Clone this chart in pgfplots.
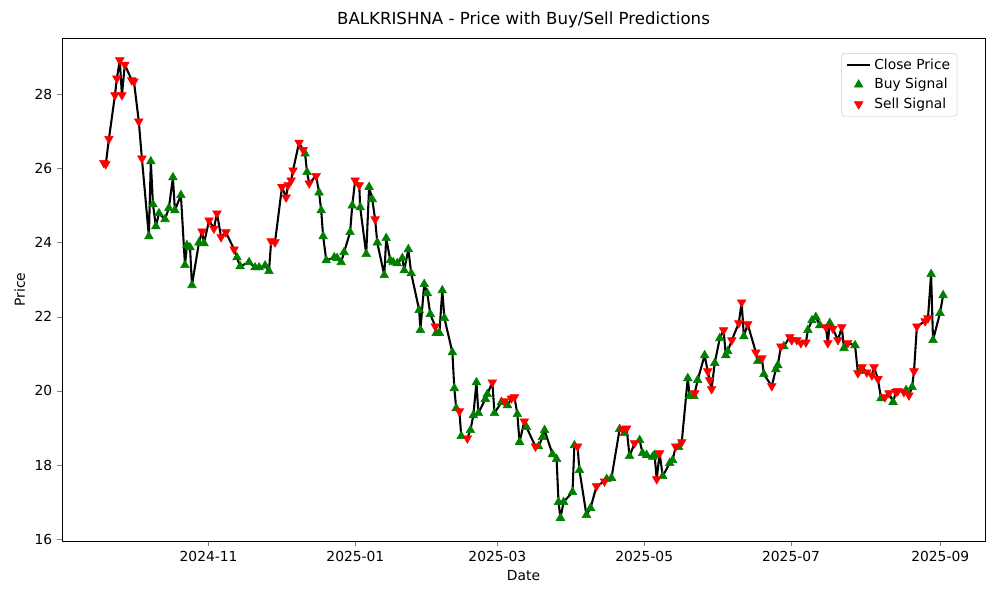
\documentclass[border=0pt]{standalone}
\usepackage{pgfplots}
\usepackage{pgfplotstable}
\pgfplotsset{compat=1.18}
\usepackage{fontspec}
\setmainfont{DejaVu Sans}
\pgfplotstableread{
x y s
17.5 26.15 0
18.3 26.12 0
19.6 26.8 0
22.1 27.98 0
22.9 28.43 0
24.1 28.92 0
25.0 27.98 0
26.2 28.8 0
29.1 28.38 0
30.0 28.35 0
32.0 27.27 0
33.3 26.27 0
36.2 24.17 1
37.0 26.19 1
37.9 25.03 1
39.1 24.44 1
40.4 24.79 1
42.9 24.63 1
44.5 24.93 1
46.2 25.76 1
47.0 24.87 1
49.5 25.28 1
51.2 23.39 1
52.0 23.93 1
53.3 23.87 1
54.1 22.85 1
57.0 24.0 1
58.3 24.3 0
59.1 23.98 1
61.2 24.6 0
63.2 24.38 0
64.5 24.79 0
66.2 24.15 0
68.2 24.28 0
71.6 23.82 0
72.8 23.6 1
74.1 23.36 1
77.8 23.47 1
80.3 23.33 1
82.0 23.33 1
84.5 23.38 1
86.1 23.23 1
87.0 24.04 0
88.6 24.01 0
91.5 25.5 0
93.2 25.22 0
94.0 25.55 0
95.3 25.68 0
96.1 25.95 0
98.6 26.7 0
100.3 26.5 0
101.1 26.4 1
101.9 25.9 1
102.8 25.6 0
105.7 25.8 0
106.9 25.35 1
107.8 24.87 1
108.6 24.17 1
109.9 23.52 1
113.2 23.6 1
114.4 23.58 1
116.1 23.47 1
117.3 23.74 1
119.8 24.28 1
120.7 25.0 1
121.9 25.68 0
123.6 25.55 0
124.0 24.95 1
126.5 23.69 1
127.7 25.5 1
129.0 25.17 1
130.2 24.63 0
131.1 24.0 1
134.0 23.12 1
134.8 24.12 1
136.5 23.52 1
137.7 23.47 1
139.4 23.44 1
141.5 23.58 1
142.3 23.25 1
144.0 23.82 1
145.2 23.17 1
148.5 22.18 1
149.0 21.64 1
150.6 22.88 1
151.9 22.63 1
153.1 22.07 1
155.2 21.74 0
155.6 21.56 1
156.9 21.56 1
158.1 22.71 1
159.0 21.96 1
162.3 21.04 1
163.1 20.07 1
163.9 19.53 1
165.2 19.45 0
166.0 18.78 1
168.5 18.72 0
169.8 18.94 1
171.0 19.34 1
172.3 20.23 1
173.1 19.4 1
176.0 19.78 1
176.8 19.91 1
178.9 20.23 0
179.8 19.4 1
182.7 19.7 1
183.9 19.72 0
185.2 19.61 1
186.8 19.8 0
188.1 19.83 0
189.3 19.37 1
190.2 18.62 1
192.2 19.18 0
193.1 19.02 1
196.8 18.5 0
198.1 18.5 1
199.7 18.75 1
200.6 18.94 1
203.9 18.29 1
205.6 18.16 1
206.4 17.0 1
207.2 16.57 1
208.5 17.0 1
212.2 17.27 1
213.0 18.53 1
214.3 18.5 0
215.1 17.86 1
218.0 16.65 1
219.7 16.84 1
222.2 17.43 0
225.5 17.56 0
226.4 17.62 1
228.4 17.65 1
231.8 18.97 1
233.0 18.97 0
233.8 18.86 1
234.7 18.99 0
235.9 18.24 1
238.0 18.59 0
240.1 18.67 1
241.3 18.32 1
243.0 18.27 1
245.5 18.22 1
246.3 18.27 1
247.2 17.62 0
248.4 18.32 0
249.7 17.7 1
252.6 18.05 1
253.8 18.13 1
255.1 18.5 0
256.3 18.48 1
257.6 18.62 0
260.1 20.34 1
260.9 19.86 1
262.6 19.86 1
263.0 19.94 0
264.2 20.29 1
267.1 20.96 1
268.4 20.53 0
269.2 20.29 0
270.0 20.05 0
271.3 20.75 1
273.4 21.42 1
275.0 21.64 0
275.9 20.96 1
276.7 21.07 1
278.4 21.37 0
281.3 21.83 0
282.5 22.39 0
283.4 21.47 1
285.0 21.8 0
288.4 21.04 0
289.2 20.8 1
290.9 20.88 0
291.7 20.45 1
295.0 20.13 0
296.7 20.58 1
297.5 20.69 1
298.8 21.2 0
300.0 21.2 1
302.5 21.45 0
303.3 21.37 0
305.4 21.37 0
307.1 21.29 0
309.2 21.31 0
310.0 21.64 1
311.7 21.9 1
313.3 21.99 1
315.0 21.77 1
317.5 21.72 0
318.3 21.29 0
319.1 21.83 1
320.4 21.68 0
322.5 21.37 0
324.1 21.72 0
325.0 21.15 1
326.6 21.29 0
329.6 21.23 1
330.8 20.48 0
331.6 20.53 1
332.5 20.64 0
334.5 20.5 0
336.6 20.42 0
337.5 20.64 0
339.1 20.32 0
340.4 19.8 1
342.0 19.83 0
343.7 19.94 0
345.4 19.7 1
346.6 19.97 0
347.4 20.0 0
349.9 19.97 0
350.8 20.02 1
352.0 19.88 0
353.3 20.1 1
354.1 20.53 0
355.3 21.74 0
358.7 21.88 0
359.9 21.96 0
361.2 23.15 1
362.0 21.37 1
364.9 22.1 1
366.2 22.58 1
}\data
\begin{document}
\begin{tikzpicture}
\begin{axis}[
  scale only axis, width=9.23in, height=5.03in,
  xmin=0.1, xmax=383.6, ymin=15.95, ymax=29.52,
  xtick={0,61,122,181,242,303,365},
  xticklabels={2024-09,2024-11,2025-01,2025-03,2025-05,2025-07,2025-09},
  ytick={16,18,20,22,24,26,28},
  tick align=outside, tick pos=lower,
  major tick length=3.5pt,
  tick label style={font=\fontsize{10}{12}\selectfont},
  /pgf/number format/assume math mode=true,
  xlabel={Date}, ylabel={Price},
  label style={font=\fontsize{10}{12}\selectfont},
  title={BALKRISHNA - Price with Buy/Sell Predictions},
  title style={font=\fontsize{12}{14}\selectfont, yshift=-2pt},
  legend pos=north east,
  legend style={font=\fontsize{10}{12}\selectfont, draw=black!20, rounded corners=2pt, row sep=1pt},
  legend cell align=left,
]
\addplot[black, line width=1.5pt, line join=round] table[x=x,y=y] {\data};
\addlegendentry{Close Price}
\addplot[only marks, mark=triangle*, mark size=3.6pt, color={rgb,255:red,0;green,128;blue,0},
  x filter/.expression={\thisrow{s}==1 ? x : nan}, unbounded coords=discard] table[x=x,y=y] {\data};
\addlegendentry{Buy Signal}
\addplot[only marks, mark=triangle*, mark size=3.6pt, mark options={rotate=180}, color=red,
  x filter/.expression={\thisrow{s}==0 ? x : nan}, unbounded coords=discard] table[x=x,y=y] {\data};
\addlegendentry{Sell Signal}
\end{axis}
\path (current axis.south west) ++(-0.62in,-0.59in) rectangle ++(10in,6in);
\end{tikzpicture}
\end{document}
